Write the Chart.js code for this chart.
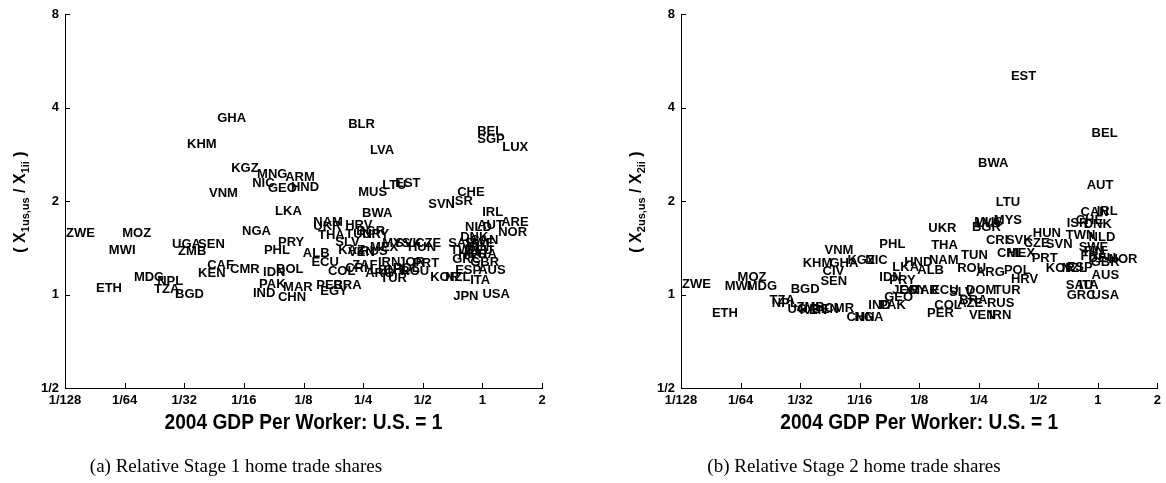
<!DOCTYPE html>
<html>
<head>
<meta charset="utf-8">
<script src="https://cdn.jsdelivr.net/npm/chart.js@4.4.0/dist/chart.umd.min.js"></script>
<style>
body { margin: 0; background: #fff; width: 1166px; height: 483px; overflow: hidden; position: relative; }
.pane { position: absolute; top: 0; width: 583px; height: 483px; }
.cap { position: absolute; top: 455px; font: 19px "Liberation Serif", "Times New Roman", serif; white-space: nowrap; transform: translateX(-50%); color: #000; }
</style>
</head>
<body>
<div class="pane" style="left:0"><canvas id="c1" width="583" height="483"></canvas></div>
<div class="pane" style="left:583px"><canvas id="c2" width="583" height="483"></canvas></div>
<div class="cap" style="left:236px">(a) Relative Stage 1 home trade shares</div>
<div class="cap" style="left:854px">(b) Relative Stage 2 home trade shares</div>
<script>
// tick values (powers of two)
const xTicks = [1/128, 1/64, 1/32, 1/16, 1/8, 1/4, 1/2, 1, 2];
const yTicks = [1/2, 1, 2, 4, 8];
const xTitle = '2004 GDP Per Worker: U.S. = 1';

// Stage 1
const codes1 = ['GHA','KHM','KGZ','MNG','ARM','NIC','GEO','HND','VNM','LKA','NGA','ZWE','MOZ','MWI','UGA','SEN','ZMB','PHL','PRY','CAF',
  'CMR','KEN','IDN','BOL','MDG','NPL','TZA','ETH','BGD','PAK','MAR','IND','CHN','PER','EGY','BRA','NAM','UKR','HRV','THA',
  'TUN','BGR','URY','SLV','MUS','LTU','EST','BWA','BLR','LVA','BEL','SGP','LUX','CHE','ISR','SVN','IRL','ARE','NLD','AUT',
  'NOR','DNK','SAU','SWE','TWN','DEU','FRA','HKG','MEX','MYS','SVK','CZE','HUN','KAZ','VEN','RUS','ALB','ECU','COL','ZAF',
  'ARG','TUR','IRN','CRI','JOR','PRT','POL','LBN','CHL','ROU','KOR','GRC','GBR','ESP','NZL','ITA','AUS','JPN','USA','FIN','CAN'];
const gdp1 = [0.0458,0.0323,0.0539,0.0729,0.101,0.0688,0.0827,0.108,0.0417,0.0898,0.0612,0.0079,0.0152,0.0130,0.0271,0.0367,0.0291,0.0789,0.0929,0.0408,
  0.0532,0.0367,0.0781,0.0909,0.0174,0.0228,0.0220,0.0112,0.0281,0.0746,0.0986,0.0695,0.0929,0.145,0.152,0.177,0.140,0.140,0.203,0.148,
  0.203,0.231,0.247,0.181,0.236,0.312,0.363,0.247,0.210,0.271,0.942,0.942,1.259,0.746,0.696,0.533,0.998,1.244,0.818,0.942,
  1.202,0.773,0.672,0.818,0.688,0.818,0.868,0.755,0.271,0.312,0.363,0.458,0.421,0.187,0.210,0.242,0.124,0.137,0.166,0.220,
  0.256,0.305,0.297,0.203,0.376,0.447,0.354,0.271,0.316,0.385,0.545,0.704,0.868,0.729,0.649,0.868,0.953,0.712,1.0,0.848,0.868];
const share1 = [3.68,3.05,2.54,2.43,2.39,2.27,2.19,2.22,2.11,1.848,1.594,1.570,1.570,1.385,1.448,1.448,1.374,1.385,1.469,1.239,
  1.203,1.168,1.177,1.203,1.134,1.101,1.038,1.045,1.0,1.077,1.053,1.007,0.978,1.069,1.022,1.069,1.703,1.654,1.666,1.547,
  1.559,1.594,1.559,1.469,2.13,2.24,2.27,1.821,3.54,2.90,3.36,3.15,2.97,2.13,2.00,1.946,1.834,1.703,1.642,1.666,
  1.582,1.525,1.458,1.458,1.385,1.385,1.344,1.344,1.416,1.458,1.458,1.458,1.416,1.385,1.364,1.374,1.354,1.267,1.185,1.239,
  1.168,1.126,1.267,1.212,1.267,1.258,1.212,1.194,1.194,1.185,1.134,1.296,1.267,1.194,1.134,1.109,1.194,0.985,1.0,1.416,1.491];

// Stage 2
const codes2 = ['EST','BEL','BWA','AUT','LTU','MUS','MYS','BGR','UKR','CAN','IRL','ISR','CHE','DNK','HUN','TWN','NLD','CRI','SVK','CZE',
  'SVN','SWE','FIN','PHL','THA','CHL','MEX','PRT','KOR','ESP','FRA','DEU','GBR','NOR','AUS','NZL','SAU','ITA','GRC','USA',
  'TUN','TUR','HND','NAM','LKA','KGZ','NIC','ALB','ROU','ARG','POL','HRV','IDN','PRY','JOR','EGY','MAR','ECU','SLV','DOM',
  'BRA','GEO','IND','PAK','CHN','NGA','COL','VEN','IRN','RUS','AZE','PER','ETH','ZWE','MOZ','MWI','MDG','BGD','VNM','KHM',
  'GHA','CIV','SEN','TZA','NPL','UGA','ZMB','KEN','BEN','CMR','LVA'];
const gdp2 = [0.3635,0.930,0.248,0.878,0.305,0.237,0.298,0.231,0.139,0.818,0.986,0.696,0.773,0.848,0.469,0.688,0.898,0.272,0.343,0.422,
  0.546,0.800,0.848,0.0786,0.1437,0.309,0.347,0.463,0.546,0.696,0.818,0.898,0.920,1.133,0.930,0.657,0.688,0.800,0.696,0.930,
  0.2036,0.298,0.105,0.140,0.0914,0.0542,0.0668,0.1222,0.1945,0.242,0.335,0.3635,0.0786,0.0883,0.0914,0.0991,0.1112,0.1437,0.177,0.2154,
  0.199,0.0832,0.0691,0.0786,0.0536,0.0588,0.149,0.223,0.2815,0.275,0.1945,0.137,0.0112,0.0079,0.0151,0.0130,0.0168,0.0280,0.0415,0.0322,
  0.0440,0.0406,0.0396,0.0219,0.0225,0.0270,0.0300,0.0311,0.0357,0.0415,0.242];
const share2 = [5.05,3.29,2.64,2.24,1.975,1.703,1.729,1.642,1.630,1.834,1.848,1.691,1.729,1.678,1.570,1.547,1.525,1.491,1.491,1.458,
  1.448,1.416,1.374,1.448,1.437,1.354,1.354,1.305,1.212,1.221,1.325,1.305,1.267,1.296,1.151,1.212,1.069,1.069,0.993,0.993,
  1.334,1.030,1.267,1.286,1.221,1.286,1.286,1.194,1.212,1.177,1.194,1.117,1.134,1.109,1.030,1.030,1.030,1.030,1.015,1.030,
  0.957,0.978,0.922,0.922,0.844,0.844,0.922,0.856,0.856,0.936,0.936,0.869,0.869,1.077,1.134,1.061,1.061,1.038,1.385,1.258,
  1.258,1.185,1.101,0.957,0.936,0.895,0.908,0.888,0.895,0.902,1.691];

const sans = '"Liberation Sans", Arial, Helvetica, sans-serif';

function fraction(v) {
    return v >= 1 ? String(v) : '1/' + Math.round(1 / v);
}

//country codes written at each point, left aligned
const codeLabels = {
    id: 'codeLabels',
    afterDatasetsDraw(chart) {
        const ctx = chart.ctx;
        const ds = chart.data.datasets[0];
        ctx.save();
        ctx.font = 'bold 13px ' + sans;
        ctx.fillStyle = '#000';
        ctx.textAlign = 'left';
        ctx.textBaseline = 'middle';
        chart.getDatasetMeta(0).data.forEach(function (pt, i) {
            ctx.fillText(ds.data[i].code, pt.x, pt.y);
        });
        ctx.restore();
    }
};

//inward ticks + axis titles
const frame = {
    id: 'frame',
    afterDraw(chart, args, opts) {
        const ctx = chart.ctx;
        const a = chart.chartArea;
        const x = chart.scales.x, y = chart.scales.y;
        ctx.save();
        ctx.strokeStyle = '#000';
        ctx.lineWidth = 1;
        ctx.beginPath();
        x.ticks.forEach(function (t) {
            let px = Math.round(x.getPixelForValue(t.value)) + 0.5;
            ctx.moveTo(px, a.bottom);
            ctx.lineTo(px, a.bottom - 5);
        });
        y.ticks.forEach(function (t) {
            let py = Math.round(y.getPixelForValue(t.value)) + 0.5;
            ctx.moveTo(a.left, py);
            ctx.lineTo(a.left + 5, py);
        });
        ctx.stroke();

        ctx.fillStyle = '#000';
        // x title
        ctx.save();
        ctx.translate((a.left + a.right) / 2, 423);
        ctx.scale(0.87, 1);
        ctx.font = 'bold 22px ' + sans;
        ctx.textAlign = 'center';
        ctx.textBaseline = 'middle';
        ctx.fillText(xTitle, 0, 0);
        ctx.restore();

        // y title, rotated, with subscripts
        const parts = [
            ['( X', 16, 0],
            [opts.stage + 'us,us', 11, 4],
            [' / X', 16, 0],
            [opts.stage + 'ii', 11, 4],
            [' )', 16, 0]
        ];
        ctx.save();
        ctx.translate(a.left - 40, 202);
        ctx.rotate(-Math.PI / 2);
        ctx.textAlign = 'left';
        ctx.textBaseline = 'alphabetic';
        let total = 0;
        parts.forEach(function (p) {
            ctx.font = 'bold ' + p[1] + 'px ' + sans;
            p.push(ctx.measureText(p[0]).width);
            total += p[3];
        });
        let cx = -total / 2;
        parts.forEach(function (p) {
            ctx.font = 'bold ' + p[1] + 'px ' + sans;
            ctx.fillText(p[0], cx, p[2]);
            cx += p[3];
        });
        ctx.restore();
        ctx.restore();
    }
};

function grafico(id, codes, gdp, share, stage, yWidth, padRight) {
    const tickFont = {family: sans, size: 13, weight: 'bold'};
    return new Chart(document.getElementById(id), {
        type: 'scatter',
        data: {
            datasets: [{
                data: gdp.map(function (g, i) { return {x: g, y: share[i], code: codes[i]}; }),
                pointRadius: 0,
                pointHoverRadius: 0
            }]
        },
        options: {
            responsive: false,
            animation: false,
            devicePixelRatio: 1,
            events: [],
            layout: {padding: {top: 14, right: padRight, left: 0, bottom: 0}},
            plugins: {
                legend: {display: false},
                tooltip: {enabled: false},
                frame: {stage: stage}
            },
            scales: {
                x: {
                    type: 'logarithmic',
                    min: 1 / 128,
                    max: 2,
                    afterBuildTicks: function (s) { s.ticks = xTicks.map(function (v) { return {value: v}; }); },
                    afterFit: function (s) { s.height = 95; },
                    grid: {display: false, drawTicks: false},
                    border: {display: true, color: '#000', width: 1},
                    ticks: {callback: fraction, font: tickFont, color: '#000', padding: 5, maxRotation: 0, autoSkip: false}
                },
                y: {
                    type: 'logarithmic',
                    min: 1 / 2,
                    max: 8,
                    afterBuildTicks: function (s) { s.ticks = yTicks.map(function (v) { return {value: v}; }); },
                    afterFit: function (s) { s.width = yWidth; },
                    grid: {display: false, drawTicks: false},
                    border: {display: true, color: '#000', width: 1},
                    ticks: {callback: fraction, font: tickFont, color: '#000', padding: 6, autoSkip: false}
                }
            }
        },
        plugins: [codeLabels, frame]
    });
}

grafico('c1', codes1, gdp1, share1, '1', 65, 41);
grafico('c2', codes2, gdp2, share2, '2', 98, 7);
</script>
</body>
</html>
